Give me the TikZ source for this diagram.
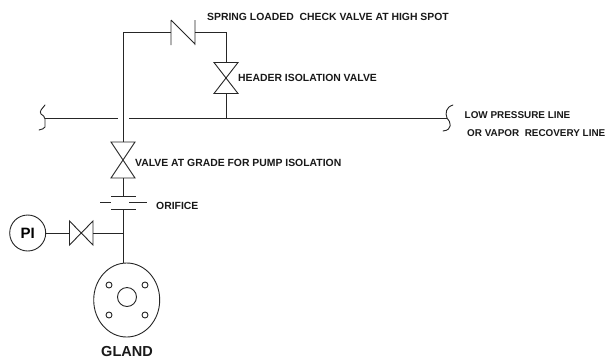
\documentclass[tikz,border=0pt]{standalone}
\usepackage{fontspec}
\setmainfont{Liberation Sans}
\tikzset{
  pipe/.style={draw=black!85,line width=0.9pt},
  lbl/.style={anchor=base west,inner sep=0pt,font=\fontsize{10.4}{12}\selectfont\bfseries,text=black!90},
  lblb/.style={lbl,font=\fontsize{9.9}{11}\selectfont\bfseries},
  pt/.style={inner sep=0pt,minimum size=0pt}
}
\begin{document}
\begin{tikzpicture}[x=1pt,y=-1pt]
\useasboundingbox (0,0) rectangle (607,360);
\fill[white] (0,0) rectangle (607,360);
% named points
\coordinate (corner) at (123,32);
\coordinate (cvL) at (171,32);
\coordinate (cvR) at (195,32);
\coordinate (corner2) at (226,32);
\coordinate (hvT) at (226,62.5);
\coordinate (hvB) at (226,93.5);
\coordinate (tee) at (226,118);
\coordinate (gvT) at (123,142);
\coordinate (gvB) at (123,178);
\coordinate (orT) at (123,196.5);
\coordinate (orB) at (123,209);
\coordinate (teeP) at (123,233);
\coordinate (ivL) at (69.5,233);
\coordinate (ivR) at (93,233);
% riser
\draw[pipe] (gvT) -- (corner) -- (cvL);
\draw[pipe] (cvR) -- (corner2) -- (hvT);
% check valve
\draw[pipe] (171,20) -- (171,45) (195,20) -- (195,45) (171,20) -- (195,44);
% header isolation valve
\draw[pipe] (214,62.5) -- (238,62.5) -- (214,93.5) -- (238,93.5) -- cycle;
\draw[pipe] (hvB) -- (tee);
% header
\draw[pipe] (45,118) -- (118,118);
\draw[pipe] (129,118) -- (447,118);
\draw[pipe,line cap=round] (45,105) .. controls (42,109) and (39,111) .. (41,114) .. controls (43,116) and (45,116) .. (45,119) -- (45,127) .. controls (44,129) and (42,129) .. (39,130);
\draw[pipe,line cap=round] (453,105) .. controls (446,107) and (445,113) .. (447,118) .. controls (451,122) and (453,130) .. (443,131);
% grade valve
\draw[pipe] (111,142) -- (135,142) -- (111,178) -- (135,178) -- cycle;
\draw[pipe] (gvB) -- (orT);
% orifice
\draw[pipe] (111,196.5) -- (136,196.5);
\draw[pipe] (111,209) -- (136,209);
\draw[pipe] (100,202) -- (111,202) (129,202) -- (147,202);
% lower
\draw[pipe] (orB) -- (123,263);
\node[draw=black!85,line width=0.9pt,circle,minimum size=36pt,inner sep=0pt,font=\fontsize{15}{15}\selectfont\bfseries] (pi) at (27.7,233) {PI};
\draw[pipe] (pi) -- (ivL);
\draw[pipe] (69.5,221) -- (93,245) -- (93,221) -- (69.5,245) -- cycle;
\draw[pipe] (ivR) -- (teeP);
% gland
\draw[pipe] (126.7,300) ellipse [x radius=33,y radius=37];
\draw[pipe] (127,297) circle [radius=9.5];
\foreach \x/\y in {109/285,145/285,109/315,145/315}
  \draw[pipe] (\x,\y) circle [radius=3];
% labels
\node[lbl] (t1) at (207,20) {SPRING LOADED\ \ CHECK VALVE AT HIGH SPOT};
\node[lbl] (t2) at (238,81) {HEADER ISOLATION VALVE};
\node[lbl] (t3) at (135,166) {VALVE AT GRADE FOR PUMP ISOLATION};
\node[lbl] (t4) at (156,209) {ORIFICE};
\node[lblb] (t5) at (464.5,118) {LOW PRESSURE LINE};
\node[lblb] (t6) at (467,136) {OR VAPOR\ \ RECOVERY LINE};
\node[anchor=base,inner sep=0pt,font=\fontsize{14.5}{15}\selectfont\bfseries,text=black!90] (t7) at (127,356) {GLAND};
\end{tikzpicture}
\end{document}
